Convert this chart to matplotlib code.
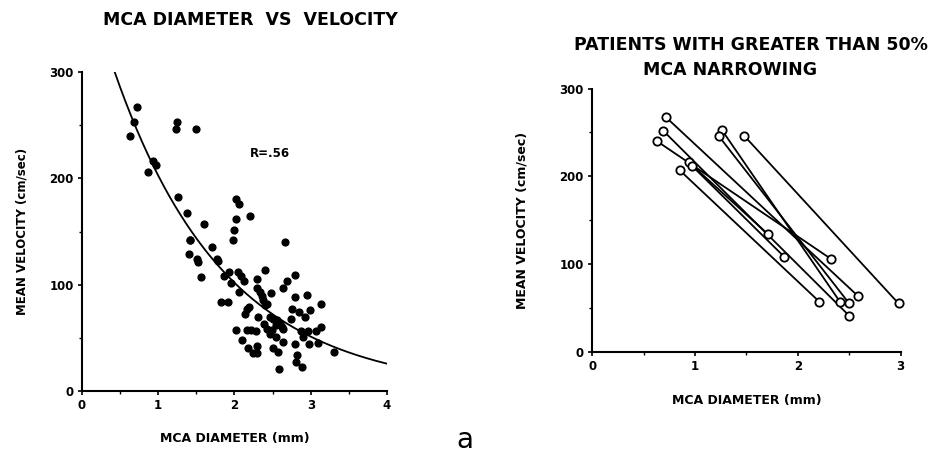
import numpy as np
import matplotlib
matplotlib.use("Agg")
import matplotlib.pyplot as plt
from matplotlib.ticker import MultipleLocator

plt.rcParams['font.family'] = ['DejaVu Sans']
plt.rcParams['font.weight'] = 'bold'

# left panel: all patients, diameter (mm) vs mean velocity (cm/sec)
diameter = [0.72, 0.68, 0.63, 0.93, 0.97, 0.86, 1.25, 1.23, 1.49, 1.26,
            1.38, 1.60, 1.42, 1.40, 1.51, 1.52, 1.56, 1.70, 1.77, 1.93,
            1.86, 1.95, 1.82, 1.91, 2.02, 2.06, 2.02, 1.99, 1.98, 2.20,
            2.66, 2.04, 2.09, 2.12, 2.06, 2.30, 2.40, 2.29, 2.33, 2.36,
            2.38, 2.48, 2.63, 2.69, 2.79, 2.43, 2.40, 2.19, 2.16, 2.14,
            2.31, 2.79, 2.95, 3.13, 2.75, 2.84, 2.99, 2.92, 2.74, 2.47,
            2.51, 2.56, 2.60, 2.54, 2.62, 2.64, 2.39, 2.43, 2.49, 2.47,
            2.54, 2.17, 2.22, 2.28, 2.02, 2.10, 2.18, 2.24, 2.29, 2.29,
            2.50, 2.57, 2.64, 2.87, 2.97, 3.07, 3.13, 2.90, 2.79, 2.98,
            3.10, 3.30, 2.82, 2.81, 2.89, 2.59, 1.42, 1.78]
velocity = [267, 253, 240, 216, 213, 206, 253, 246, 246, 182,
            167, 157, 142, 129, 124, 121, 107, 135, 124, 112,
            108, 102, 84, 84, 181, 176, 162, 151, 142, 165,
            140, 112, 108, 103, 93, 105, 114, 97, 93, 89,
            86, 92, 97, 103, 109, 82, 81, 79, 77, 72,
            70, 88, 90, 82, 77, 74, 76, 70, 68, 70,
            68, 67, 64, 62, 60, 58, 63, 58, 57, 54,
            51, 57, 57, 56, 57, 48, 40, 36, 36, 42,
            40, 37, 46, 56, 56, 56, 60, 51, 44, 44,
            45, 37, 34, 27, 23, 21, 142, 122]

# fitted curve: v = fit_a * exp(-fit_k * d)
fit_a = 403
fit_k = 0.688
fit_start, fit_end = 0.43, 4.0

# right panel: patients with >50% narrowing, first and second measurement
narrow_d1 = [0.72, 0.69, 0.63, 0.85, 0.94, 0.97, 1.26, 1.23, 1.48]
narrow_v1 = [267, 252, 240, 207, 216, 212, 253, 246, 246]
narrow_d2 = [2.59, 2.50, 2.32, 2.21, 1.71, 1.87, 2.41, 2.50, 2.98]
narrow_v2 = [63, 41, 106, 57, 134, 108, 57, 55, 55]

fig = plt.figure(figsize=(9.49, 4.61), dpi=100)


def style_axes(ax, xmax):
    for side in ['top', 'right']:
        ax.spines[side].set_visible(False)
    for side in ['left', 'bottom']:
        ax.spines[side].set_linewidth(1.5)
    ax.set_xlim(0, xmax)
    ax.set_ylim(0, 300)
    ax.xaxis.set_major_locator(MultipleLocator(1))
    ax.xaxis.set_minor_locator(MultipleLocator(0.5))
    ax.yaxis.set_major_locator(MultipleLocator(100))
    ax.yaxis.set_minor_locator(MultipleLocator(50))
    ax.tick_params(which='major', direction='out', length=3, width=1.2,
                   labelsize=8.5, pad=3)
    ax.tick_params(which='minor', direction='out', length=2, width=1)
    for lab in ax.get_xticklabels() + ax.get_yticklabels():
        lab.set_fontweight('bold')


# left panel
ax1 = fig.add_axes([0.0864, 0.1518, 0.3214, 0.692])
ax1.scatter(diameter, velocity, s=24, color='black', zorder=3)
xs = np.linspace(fit_start, fit_end, 200)
ax1.plot(xs, fit_a * np.exp(-fit_k * xs), color='black', lw=1.3)
ax1.text(2.47, 223, 'R=.56', fontsize=8.5, fontweight='bold',
         ha='center', va='center')
style_axes(ax1, 4)
ax1.set_xlabel('MCA DIAMETER (mm)', fontsize=9, fontweight='bold', labelpad=14)
ax1.set_ylabel('MEAN VELOCITY (cm/sec)', fontsize=8.5, fontweight='bold',
               labelpad=15)
fig.text(250 / 949, 1 - 20 / 461, 'MCA DIAMETER  VS  VELOCITY',
         fontsize=12.5, fontweight='bold', ha='center', va='center')

# right panel
ax2 = fig.add_axes([0.624, 0.237, 0.325, 0.571])
for i in range(len(narrow_d1)):
    ax2.plot([narrow_d1[i], narrow_d2[i]], [narrow_v1[i], narrow_v2[i]],
             color='black', lw=1.3, marker='o', markersize=6,
             markerfacecolor='white', markeredgecolor='black',
             markeredgewidth=1.3, clip_on=False)
style_axes(ax2, 3)
ax2.set_xlabel('MCA DIAMETER (mm)', fontsize=9, fontweight='bold', labelpad=15)
ax2.set_ylabel('MEAN VELOCITY (cm/sec)', fontsize=9, fontweight='bold',
               labelpad=22)
fig.text(751 / 949, 1 - 45 / 461, 'PATIENTS WITH GREATER THAN 50%',
         fontsize=12.5, fontweight='bold', ha='center', va='center')
fig.text(730 / 949, 1 - 70 / 461, 'MCA NARROWING',
         fontsize=12.5, fontweight='bold', ha='center', va='center')

fig.text(465 / 949, 1 - 440 / 461, 'a', fontsize=20, fontweight='normal',
         ha='center', va='center')

plt.savefig('out.png', dpi=100)
